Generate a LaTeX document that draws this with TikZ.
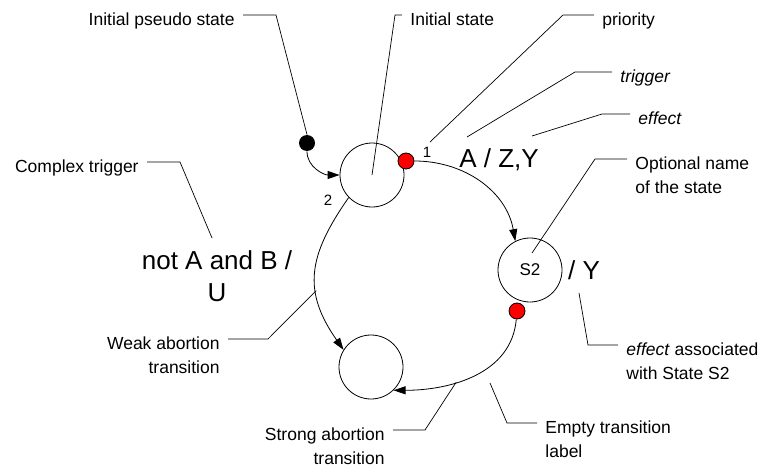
\documentclass[tikz,border=0pt]{standalone}
\usepackage{fontspec}
\setmainfont{Liberation Sans}
\usetikzlibrary{arrows.meta}
\begin{document}
\begin{tikzpicture}[x=1pt,y=1pt,line width=0.8pt,
    state/.style={circle,draw,minimum size=64pt,inner sep=0pt,font=\fontsize{17}{20}\selectfont},
    pseudo/.style={circle,fill=black,minimum size=16pt,inner sep=0pt},
    reddot/.style={circle,draw,fill=red,minimum size=16pt,inner sep=0pt},
    trans/.style={-{Triangle[length=12pt,width=8pt]}},
    evt/.style={font=\fontsize{26}{32}\selectfont,align=center},
    prio/.style={font=\fontsize{15}{18}\selectfont},
    note/.style={font=\fontsize{17.5}{24}\selectfont,inner xsep=8pt,inner ysep=0pt},
    leader/.style={line width=0.7pt}]
        \useasboundingbox (0,0) rectangle (765,467);
        \node[pseudo] (init) at (307,324) {};
        \node[state] (s1) at (372,292) {};
        \node[state] (s2) at (530,197) {S2};
        \node[state] (s3) at (371,100) {};
        \node[reddot] (r1) at (406,306) {};
        \node[reddot] (r2) at (517,156) {};
        \draw[trans] (init) to[out=-90,in=180] (s1.west);
        \draw[trans] (r1) to[out=0,in=100] (s2.117);
        \draw[trans] (s1.224) to[out=235,in=125,looseness=1.2] coordinate[pos=0.62] (wkPt) (s3.148);
        \draw[trans] (r2) to[out=-95,in=0] coordinate[pos=0.62] (stPt) (s3.-46);
        \node[prio] (p1) at (427,315) {1};
        \node[prio] (p2) at (328,267) {2};
        \node[evt] (ev1) at (499,307) {A / Z,Y};
        \node[evt] (ev2) at (584,197) {/ Y};
        \node[evt] (ev3) at (217,191) {not A and B /\\U};
        \node[note,anchor=north east] (nIps) at (243,455) {Initial pseudo state};
        \node[note,anchor=north west] (nIs) at (402,455) {Initial state};
        \node[note,anchor=north west] (nPrio) at (594,455) {priority};
        \node[note,anchor=north west] (nTrig) at (612,398) {\textit{trigger}};
        \node[note,anchor=north west] (nEff) at (630,356) {\textit{effect}};
        \node[note,anchor=north west,align=left] (nOpt) at (627,311) {Optional name\\of the state};
        \node[note,anchor=north west,align=left] (nEa) at (618,125) {\textit{effect} associated\\with State S2};
        \node[note,anchor=north west,align=left] (nEmpty) at (537,47) {Empty transition\\label};
        \node[note,anchor=north east,align=right] (nStrong) at (393,40) {Strong abortion\\transition};
        \node[note,anchor=north east,align=right] (nWeak) at (228,131) {Weak abortion\\transition};
        \node[note,anchor=north east] (nCompl) at (147,308) {Complex trigger};
        \coordinate (kIps) at (276,452);
        \coordinate (kIs) at (395,452);
        \coordinate (kPrio) at (563,452);
        \coordinate (ePrio) at (430,325);
        \coordinate (kTrig) at (575,395);
        \coordinate (eTrig) at (467,330);
        \coordinate (kEff) at (602,353);
        \coordinate (eEff) at (532,331);
        \coordinate (kOpt) at (595,308);
        \coordinate (eOpt) at (532,214);
        \coordinate (kEa) at (588,122);
        \coordinate (eEa) at (579,174);
        \coordinate (kEmpty) at (507,44);
        \coordinate (eEmpty) at (490,84);
        \coordinate (kStrong) at (425,37);
        \coordinate (kWeak) at (268,128);
        \coordinate (kCompl) at (180,305);
        \coordinate (eCompl) at (212,229);
        \draw[leader] ([yshift=-3pt]nIps.north east) -- (kIps) -- (init.north);
        \draw[leader] ([yshift=-3pt]nIs.north west) -- (kIs) -- (s1.center);
        \draw[leader] ([yshift=-3pt]nPrio.north west) -- (kPrio) -- (ePrio);
        \draw[leader] ([yshift=-3pt]nTrig.north west) -- (kTrig) -- (eTrig);
        \draw[leader] ([yshift=-3pt]nEff.north west) -- (kEff) -- (eEff);
        \draw[leader] ([yshift=-3pt]nOpt.north west) -- (kOpt) -- (eOpt);
        \draw[leader] ([yshift=-3pt]nEa.north west) -- (kEa) -- (eEa);
        \draw[leader] ([yshift=-3pt]nEmpty.north west) -- (kEmpty) -- (eEmpty);
        \draw[leader] ([yshift=-3pt]nStrong.north east) -- (kStrong) -- (stPt);
        \draw[leader] ([yshift=-3pt]nWeak.north east) -- (kWeak) -- (wkPt);
        \draw[leader] ([yshift=-3pt]nCompl.north east) -- (kCompl) -- (eCompl);
\end{tikzpicture}
\end{document}
